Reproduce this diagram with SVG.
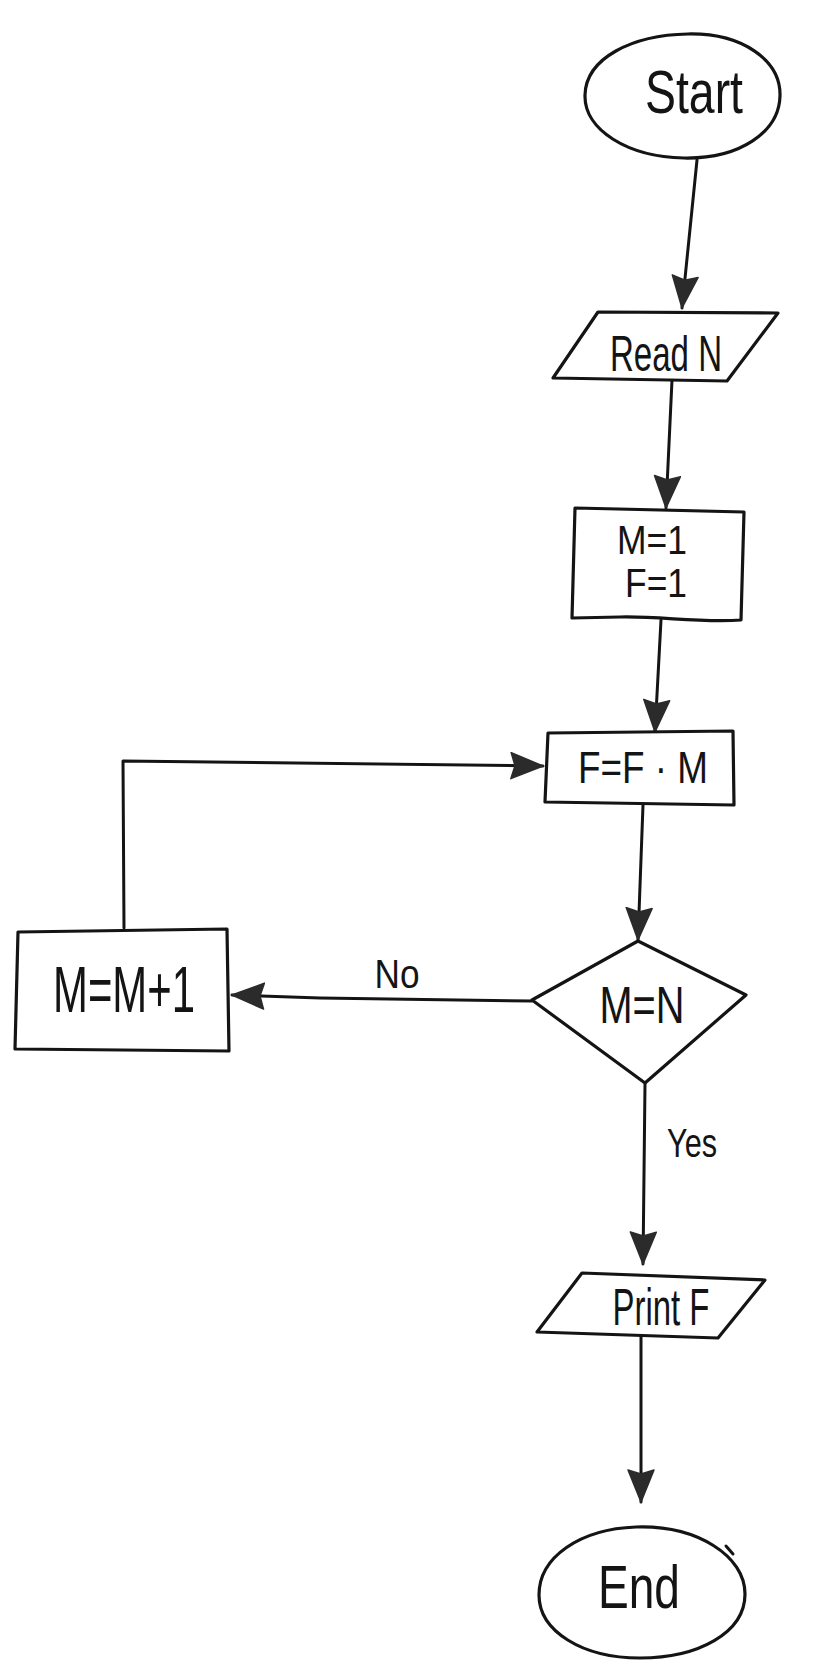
<svg xmlns="http://www.w3.org/2000/svg" width="822" height="1666" viewBox="0 0 822 1666">
  <style>
    .shape { fill: #ffffff; stroke: #141414; stroke-width: 3.2; stroke-linejoin: round; stroke-linecap: round; }
    .edge { fill: none; stroke: #141414; stroke-width: 3; stroke-linecap: round; stroke-linejoin: round; }
    .label { font-family: "Liberation Sans", "DejaVu Sans", sans-serif; fill: #141414; text-anchor: middle; }
  </style>
  <defs>
    <marker id="head" viewBox="0 0 34 28" refX="33" refY="14" markerWidth="34" markerHeight="28" markerUnits="userSpaceOnUse" orient="auto">
      <path d="M1,1 L33,14 L1,27 L5,14 Z" fill="#2b2b2b" stroke="#2b2b2b" stroke-width="1.5" stroke-linejoin="round"/>
    </marker>
  </defs>

  <rect width="822" height="1666" fill="#ffffff"/>

  <!-- connectors -->
  <g id="connectors">
    <path class="edge" d="M697,160 L682,308" marker-end="url(#head)"/>
    <path class="edge" d="M672,380 L666,508" marker-end="url(#head)"/>
    <path class="edge" d="M661,620 L655,732" marker-end="url(#head)"/>
    <path class="edge" d="M643,805 L638,940" marker-end="url(#head)"/>
    <path class="edge" d="M532,1001 L320,998 L232,995" marker-end="url(#head)"/>
    <path class="edge" d="M124,928 L123,761 L543,766" marker-end="url(#head)"/>
    <path class="edge" d="M645,1084 L643,1264" marker-end="url(#head)"/>
    <path class="edge" d="M641,1336 L641,1502" marker-end="url(#head)"/>
    <text class="label" x="397" y="988" font-size="40" textLength="45" lengthAdjust="spacingAndGlyphs">No</text>
    <text class="label" x="692" y="1157" font-size="40" textLength="50" lengthAdjust="spacingAndGlyphs">Yes</text>
  </g>

  <!-- terminal: start -->
  <g id="start">
    <path class="shape" d="M688,34 C742,33 781,60 780,96 C779,132 740,159 684,158 C628,157 584,130 585,95 C586,58 632,35 688,34 Z"/>
    <text class="label" x="694" y="113" font-size="62" textLength="98" lengthAdjust="spacingAndGlyphs">Start</text>
  </g>

  <!-- input: read N -->
  <g id="read-n">
    <path class="shape" d="M598,312 L778,313 L727,381 L553,378 Z"/>
    <text class="label" x="666" y="371" font-size="50" textLength="112" lengthAdjust="spacingAndGlyphs">Read N</text>
  </g>

  <!-- process: initialise -->
  <g id="init">
    <path class="shape" d="M575,508 L744,512 L741,620 C700,623 660,616 620,617 L572,618 Z"/>
    <text class="label" x="652" y="554" font-size="41" textLength="70" lengthAdjust="spacingAndGlyphs">M=1</text>
    <text class="label" x="656" y="597" font-size="41" textLength="62" lengthAdjust="spacingAndGlyphs">F=1</text>
  </g>

  <!-- process: multiply -->
  <g id="multiply">
    <path class="shape" d="M548,733 L733,731 L734,805 L545,802 Z"/>
    <text class="label" x="643" y="783" font-size="44" textLength="130" lengthAdjust="spacingAndGlyphs">F=F · M</text>
  </g>

  <!-- decision -->
  <g id="check">
    <path class="shape" d="M638,941 L746,995 L645,1083 L532,1000 Z"/>
    <text class="label" x="642" y="1023" font-size="52" textLength="85" lengthAdjust="spacingAndGlyphs">M=N</text>
  </g>

  <!-- process: increment -->
  <g id="increment">
    <path class="shape" d="M18,932 L227,929 L229,1051 L15,1049 Z"/>
    <text class="label" x="124" y="1012" font-size="64" textLength="142" lengthAdjust="spacingAndGlyphs">M=M+1</text>
  </g>

  <!-- output: print F -->
  <g id="print-f">
    <path class="shape" d="M582,1273 L765,1280 L718,1338 L537,1332 Z"/>
    <text class="label" x="661" y="1325" font-size="52" textLength="97" lengthAdjust="spacingAndGlyphs">Print F</text>
  </g>

  <!-- terminal: end -->
  <g id="end">
    <path class="shape" d="M636,1527 C697,1525 745,1556 745,1594 C745,1633 698,1658 640,1658 C582,1658 539,1631 539,1595 C539,1557 580,1529 636,1527 Z"/>
    <path class="edge" d="M726,1546 L733,1554" />
    <text class="label" x="639" y="1608" font-size="62" textLength="82" lengthAdjust="spacingAndGlyphs">End</text>
  </g>
</svg>
